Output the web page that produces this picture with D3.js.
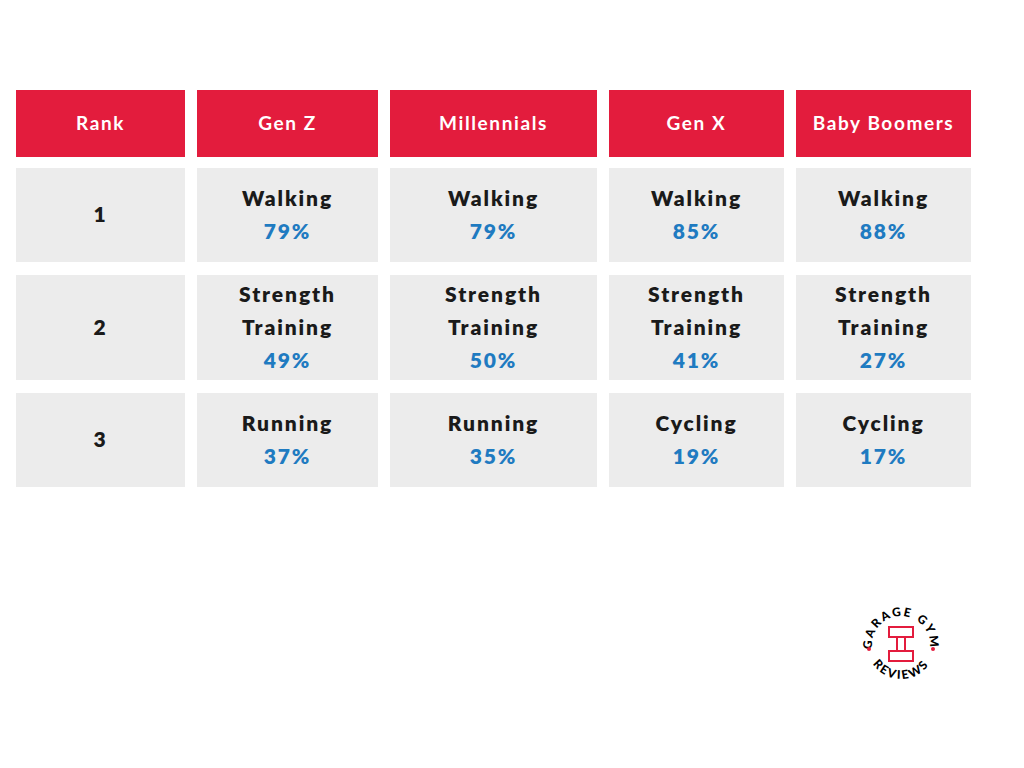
<!DOCTYPE html><html><head><meta charset="utf-8">
<script src="https://cdn.jsdelivr.net/npm/d3@7"></script>
<style>body{margin:0;background:#fff}</style></head><body><svg id="c" width="1024" height="768"></svg>
<script>
const headers=["Rank","Gen Z","Millennials","Gen X","Baby Boomers"];
const ranks=["1","2","3"];
const genZ=[["Walking","79%"],["Strength Training","49%"],["Running","37%"]];
const millennials=[["Walking","79%"],["Strength Training","50%"],["Running","35%"]];
const genX=[["Walking","85%"],["Strength Training","41%"],["Cycling","19%"]];
const boomers=[["Walking","88%"],["Strength Training","27%"],["Cycling","17%"]];
const cols=[[16,185],[197,378],[390,597],[609,784],[796,971]];
const rows=[[168,262],[275,380],[393,487]];
const svg=d3.select("#c");
const font="Lato, 'Open Sans', sans-serif";
headers.forEach((h,i)=>{
 svg.append("rect").attr("x",cols[i][0]).attr("y",90).attr("width",cols[i][1]-cols[i][0]).attr("height",67).attr("fill","#e31c3d");
 svg.append("text").attr("x",(cols[i][0]+cols[i][1])/2).attr("y",130).attr("text-anchor","middle").attr("fill","#fff").attr("font-family",font).attr("font-weight",700).attr("font-size",19).attr("letter-spacing",1.6).text(h);
});
const data=[genZ,millennials,genX,boomers];
rows.forEach((r,j)=>{
 cols.forEach((c,i)=>{
  svg.append("rect").attr("x",c[0]).attr("y",r[0]).attr("width",c[1]-c[0]).attr("height",r[1]-r[0]).attr("fill","#ececec");
  const cx=(c[0]+c[1])/2, cy=(r[0]+r[1])/2;
  let lines = i==0?[[ranks[j],"#1a1a1a"]]:[...data[i-1][j][0].split(" ").map(w=>[w,"#1a1a1a"]),[data[i-1][j][1],"#1f7bc1"]];
  const n=lines.length, lh=33;
  lines.forEach((l,k)=>{
   svg.append("text").attr("x",cx).attr("y",cy+(k-(n-1)/2)*lh+7).attr("text-anchor","middle").attr("fill",l[1]).attr("font-family",font).attr("font-weight",800).attr("font-size",21).attr("letter-spacing",1.9).text(l[0]);
  });
 });
});
const g=svg.append("g").attr("transform","translate(901,645)");
g.append("path").attr("id","top").attr("d","M-29,0 A29,29 0 0 1 29,0").attr("fill","none");
g.append("path").attr("id","bot").attr("d","M-34,0 A34,34 0 0 0 34,0").attr("fill","none");
g.append("text").attr("font-family",font).attr("font-weight",900).attr("font-size",12).attr("letter-spacing",2).append("textPath").attr("href","#top").attr("startOffset","50%").attr("text-anchor","middle").text("GARAGE GYM");
g.append("text").attr("font-family",font).attr("font-weight",900).attr("font-size",12).attr("letter-spacing",2).append("textPath").attr("href","#bot").attr("startOffset","50%").attr("text-anchor","middle").text("REVIEWS");
[-32,32].forEach(x=>g.append("circle").attr("cx",x).attr("cy",4).attr("r",2).attr("fill","#e31c3d"));
const red="#e31c3d";
g.append("rect").attr("x",-12).attr("y",-18).attr("width",24).attr("height",10).attr("fill","none").attr("stroke",red).attr("stroke-width",2);
g.append("rect").attr("x",-4).attr("y",-8).attr("width",8).attr("height",14).attr("fill","none").attr("stroke",red).attr("stroke-width",2);
g.append("rect").attr("x",-12).attr("y",6).attr("width",24).attr("height",10).attr("fill","none").attr("stroke",red).attr("stroke-width",2);
</script></body></html>
